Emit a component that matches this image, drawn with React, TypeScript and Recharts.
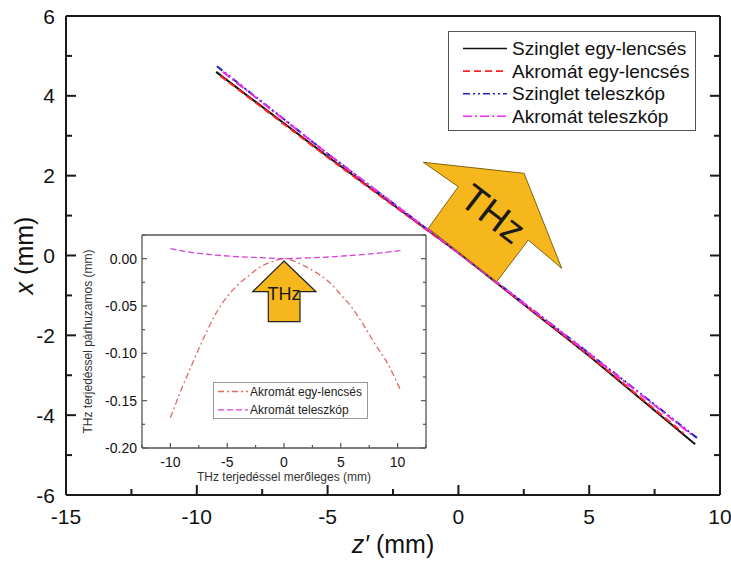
import { ComposedChart, Line, XAxis, YAxis, Legend, Label } from 'recharts';

// main chart: z' (mm) vs x (mm)
const singletLensZ = [-9.26, -5, 0, 5, 9.05];
const singletLensX = [4.6, 2.48, 0.07, -2.52, -4.73];
const achromatLensZ = [-9.1, -5, 0, 5, 8.6];
const achromatLensX = [4.5, 2.46, 0.06, -2.5, -4.45];
const singletScopeZ = [-9.23, -5, 0, 5, 9.12];
const singletScopeX = [4.74, 2.55, 0.07, -2.45, -4.57];
const achromatScopeZ = [-9.0, -5, 0, 5, 8.9];
const achromatScopeX = [4.6, 2.55, 0.07, -2.46, -4.48];

const mainNames = ['Szinglet egy-lencsés', 'Akromát egy-lencsés', 'Szinglet teleszkóp', 'Akromát teleszkóp'];
const mainXTicks = [-15, -12.5, -10, -7.5, -5, -2.5, 0, 2.5, 5, 7.5, 10];
const mainYTicks = [-6, -5, -4, -3, -2, -1, 0, 1, 2, 3, 4, 5, 6];

// inset: perpendicular vs parallel to THz propagation
const insetLensU = [-10, -9, -8, -7, -6, -5, -4, -3, -2, -1, 0, 1, 2, 3, 4, 5, 6, 7, 8, 9, 10.3];
const insetLensV = [-0.168, -0.137, -0.109, -0.082, -0.058, -0.04, -0.027, -0.017, -0.008, -0.003, 0, -0.003, -0.009, -0.016, -0.025, -0.038, -0.052, -0.07, -0.09, -0.108, -0.14];
const insetScopeU = [-10, -8, -6, -4, -2, 0, 2, 4, 6, 8, 10.3];
const insetScopeV = [0.0106, 0.0063, 0.0038, 0.002, 0.001, 0, 0.0008, 0.0018, 0.0035, 0.0055, 0.0085];

const insetNames = ['Akromát egy-lencsés', 'Akromát teleszkóp'];
const insetXTicks = [-12.5, -10, -7.5, -5, -2.5, 0, 2.5, 5, 7.5, 10, 12.5];
const insetYTicks = [-0.2, -0.175, -0.15, -0.125, -0.1, -0.075, -0.05, -0.025, 0, 0.025];

const zip = (xs: number[], ys: number[]) => xs.map((x, i) => ({ x, y: ys[i] }));

const FONT = '"Liberation Sans", Arial, sans-serif';

const mainStyles = [
  { color: '#111111', dash: undefined },
  { color: '#ff2424', dash: '7 4' },
  { color: '#1f1fc8', dash: '7 3 2 3 2 3' },
  { color: '#ee2cee', dash: '9 3 2 3' },
];
const insetStyles = [
  { color: '#e26a66', dash: '6 3 2 3' },
  { color: '#d840d8', dash: '6 3' },
];

type TickOpts = {
  isMajor: (v: number) => boolean;
  fmt?: (v: number) => string;
  major: number;
  minor: number;
  gap: number;
  fontSize: number;
  color: string;
  sw: number;
};

function axisTick(side: 'left' | 'right' | 'top' | 'bottom', o: TickOpts) {
  return (props: any) => {
    const { x, y, payload } = props;
    const v = payload.value;
    const big = o.isMajor(v);
    const len = big ? o.major : o.minor;
    let seg = null;
    let label = null;
    if (side === 'left') {
      seg = <line x1={x} y1={y} x2={x + len} y2={y} />;
      if (big && o.fmt) label = <text x={x - o.gap} y={y} textAnchor="end" dominantBaseline="central">{o.fmt(v)}</text>;
    } else if (side === 'right') {
      seg = <line x1={x} y1={y} x2={x - len} y2={y} />;
    } else if (side === 'bottom') {
      seg = <line x1={x} y1={y} x2={x} y2={y - len} />;
      if (big && o.fmt) label = <text x={x} y={y + o.gap} textAnchor="middle" dominantBaseline="central">{o.fmt(v)}</text>;
    } else {
      seg = <line x1={x} y1={y} x2={x} y2={y + len} />;
    }
    return (
      <g>
        <g stroke={o.color} strokeWidth={o.sw}>{seg}</g>
        {label && <g fill="#111" fontSize={o.fontSize} fontFamily={FONT}>{label}</g>}
      </g>
    );
  };
}

const mainTickX: TickOpts = { isMajor: (v) => v % 5 === 0, fmt: (v) => String(v), major: 10, minor: 6, gap: 21, fontSize: 21, color: '#1a1a1a', sw: 2 };
const mainTickY: TickOpts = { isMajor: (v) => v % 2 === 0, fmt: (v) => String(v), major: 10, minor: 6, gap: 11, fontSize: 21, color: '#1a1a1a', sw: 2 };
const insetTickX: TickOpts = { isMajor: (v) => v % 5 === 0, fmt: (v) => String(v), major: 5, minor: 3, gap: 14, fontSize: 14, color: '#555', sw: 1.2 };
const insetTickY: TickOpts = {
  isMajor: (v) => Math.abs(Math.round(v * 1000)) % 50 === 0,
  fmt: (v) => v.toFixed(2),
  major: 5, minor: 3, gap: 5, fontSize: 14, color: '#555', sw: 1.2,
};

const mainSeries = [
  zip(singletLensZ, singletLensX),
  zip(achromatLensZ, achromatLensX),
  zip(singletScopeZ, singletScopeX),
  zip(achromatScopeZ, achromatScopeX),
];
const insetSeries = [zip(insetLensU, insetLensV), zip(insetScopeU, insetScopeV)];

const MainLegend = () => (
  <svg width={248} height={100} style={{ display: 'block' }}>
    <rect x={0.5} y={0.5} width={247} height={99} fill="#fff" stroke="#555" />
    {mainNames.map((n, i) => (
      <g key={n}>
        <line x1={15} x2={59} y1={17.5 + i * 22.6} y2={17.5 + i * 22.6} stroke={mainStyles[i].color} strokeWidth={1.6} strokeDasharray={mainStyles[i].dash} />
        <text x={64} y={17.5 + i * 22.6} dominantBaseline="central" fontSize={19} fontFamily={FONT} fill="#111">{n}</text>
      </g>
    ))}
  </svg>
);

const InsetLegend = () => (
  <svg width={155} height={37} style={{ display: 'block' }}>
    <rect x={0.5} y={0.5} width={154} height={36} fill="#fff" stroke="#999" />
    {insetNames.map((n, i) => (
      <g key={n}>
        <line x1={5} x2={35} y1={9.5 + i * 18.3} y2={9.5 + i * 18.3} stroke={insetStyles[i].color} strokeWidth={1.3} strokeDasharray={insetStyles[i].dash} />
        <text x={37} y={9.5 + i * 18.3} dominantBaseline="central" fontSize={12} fontFamily={FONT} fill="#222">{n}</text>
      </g>
    ))}
  </svg>
);

export default function App() {
  return (
    <div style={{ position: 'absolute', left: 0, top: 0, width: 731, height: 561, background: '#fff', fontFamily: FONT }}>
      <ComposedChart width={731} height={561} margin={{ top: 15, right: 10, bottom: 0, left: 0 }}>
        <XAxis type="number" dataKey="x" domain={[-15, 10]} ticks={mainXTicks} interval={0} allowDataOverflow
          height={66} tickSize={0} tickMargin={0} tickLine={false}
          axisLine={{ stroke: '#1a1a1a', strokeWidth: 2 }} tick={axisTick('bottom', mainTickX)}>
          <Label content={(p: any) => (
            <text x={p.viewBox.x + p.viewBox.width / 2} y={553} textAnchor="middle" fontSize={25} fontFamily={FONT} fill="#111">
              <tspan fontStyle="italic">z′</tspan> (mm)
            </text>
          )} />
        </XAxis>
        <XAxis xAxisId="top" orientation="top" type="number" domain={[-15, 10]} ticks={mainXTicks} interval={0} allowDataOverflow
          height={1} tickSize={0} tickMargin={0} tickLine={false}
          axisLine={{ stroke: '#1a1a1a', strokeWidth: 2 }} tick={axisTick('top', mainTickX)} />
        <YAxis type="number" domain={[-6, 6]} ticks={mainYTicks} interval={0} allowDataOverflow
          width={66} tickSize={0} tickMargin={0} tickLine={false}
          axisLine={{ stroke: '#1a1a1a', strokeWidth: 2 }} tick={axisTick('left', mainTickY)}>
          <Label content={(p: any) => {
            const cy = p.viewBox.y + p.viewBox.height / 2;
            return (
              <text x={24} y={cy} transform={`rotate(-90, 24, ${cy})`} textAnchor="middle" dominantBaseline="central" fontSize={25} fontFamily={FONT} fill="#111">
                <tspan fontStyle="italic">x</tspan> (mm)
              </text>
            );
          }} />
        </YAxis>
        <YAxis yAxisId="right" orientation="right" type="number" domain={[-6, 6]} ticks={mainYTicks} interval={0} allowDataOverflow
          width={1} tickSize={0} tickMargin={0} tickLine={false}
          axisLine={{ stroke: '#1a1a1a', strokeWidth: 2 }} tick={axisTick('right', mainTickY)} />
        <Legend layout="vertical" align="center" verticalAlign="middle" content={MainLegend}
          wrapperStyle={{ left: 448, top: 31, width: 248, height: 100 }} />
        {mainSeries.map((d, i) => (
          <Line key={mainNames[i]} name={mainNames[i]} data={d} dataKey="y" type="linear" stroke={mainStyles[i].color}
            strokeWidth={2} strokeDasharray={mainStyles[i].dash} dot={false} isAnimationActive={false} />
        ))}
      </ComposedChart>

      <svg width={731} height={561} style={{ position: 'absolute', left: 0, top: 0, pointerEvents: 'none' }}>
        <polygon points="423.3,162.3 524,173.3 561.7,268.3 528.3,240 496.7,281.7 428.3,228.3 458.3,186.7"
          fill="#f6b71c" stroke="#7d6210" strokeWidth={1} />
        <text x={493} y={214} transform="rotate(37.5, 493, 214)" textAnchor="middle" dominantBaseline="central"
          fontSize={38} fontFamily={FONT} fill="#1a1a1a">THz</text>
      </svg>

      <div style={{ position: 'absolute', left: 80, top: 228 }}>
        <ComposedChart width={350} height={262} margin={{ top: 6, right: 3, bottom: 0, left: 0 }}>
          <XAxis type="number" dataKey="x" domain={[-12.5, 12.5]} ticks={insetXTicks} interval={0} allowDataOverflow
            height={42} tickSize={0} tickMargin={0} tickLine={false}
            axisLine={{ stroke: '#555', strokeWidth: 1.3 }} tick={axisTick('bottom', insetTickX)}>
            <Label content={(p: any) => (
              <text x={p.viewBox.x + p.viewBox.width / 2} y={253} textAnchor="middle" fontSize={12} fontFamily={FONT} fill="#333">
                THz terjedéssel merőleges (mm)
              </text>
            )} />
          </XAxis>
          <XAxis xAxisId="top" orientation="top" type="number" domain={[-12.5, 12.5]} ticks={insetXTicks} interval={0} allowDataOverflow
            height={1} tickSize={0} tickMargin={0} tickLine={false}
            axisLine={{ stroke: '#555', strokeWidth: 1.3 }} tick={axisTick('top', insetTickX)} />
          <YAxis type="number" domain={[-0.2, 0.025]} ticks={insetYTicks} interval={0} allowDataOverflow
            width={62} tickSize={0} tickMargin={0} tickLine={false}
            axisLine={{ stroke: '#555', strokeWidth: 1.3 }} tick={axisTick('left', insetTickY)}>
            <Label content={(p: any) => {
              const cy = p.viewBox.y + p.viewBox.height / 2;
              return (
                <text x={8} y={cy} transform={`rotate(-90, 8, ${cy})`} textAnchor="middle" dominantBaseline="central" fontSize={12} fontFamily={FONT} fill="#333">
                  THz terjedéssel párhuzamos (mm)
                </text>
              );
            }} />
          </YAxis>
          <YAxis yAxisId="right" orientation="right" type="number" domain={[-0.2, 0.025]} ticks={insetYTicks} interval={0} allowDataOverflow
            width={1} tickSize={0} tickMargin={0} tickLine={false}
            axisLine={{ stroke: '#555', strokeWidth: 1.3 }} tick={axisTick('right', insetTickY)} />
          <Legend layout="vertical" align="center" verticalAlign="middle" content={InsetLegend}
            wrapperStyle={{ left: 133, top: 154, width: 155, height: 37 }} />
          {insetSeries.map((d, i) => (
            <Line key={insetNames[i]} name={insetNames[i]} data={d} dataKey="y" type="monotone" stroke={insetStyles[i].color}
              strokeWidth={1.3} strokeDasharray={insetStyles[i].dash} dot={false} isAnimationActive={false} />
          ))}
        </ComposedChart>
      </div>

      <svg width={731} height={561} style={{ position: 'absolute', left: 0, top: 0, pointerEvents: 'none' }}>
        <polygon points="284,261 316,291.7 300,291.7 300,321.7 268.3,321.7 268.3,291.7 252.7,291.7"
          fill="#f6b71c" stroke="#222" strokeWidth={1.2} />
        <text x={284} y={294} textAnchor="middle" dominantBaseline="central" fontSize={18} fontFamily={FONT} fill="#1a1a1a">THz</text>
      </svg>
    </div>
  );
}
